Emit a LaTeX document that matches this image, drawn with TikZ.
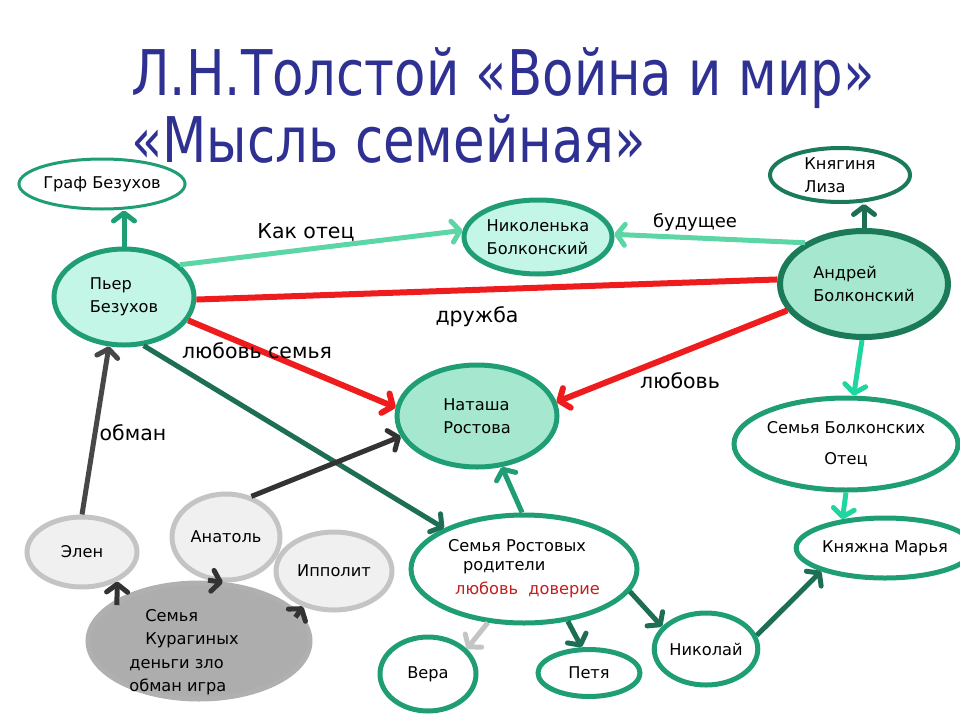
\documentclass[tikz,border=0pt]{standalone}
\usepackage{fontspec}
\setmainfont{DejaVu Sans}
\usetikzlibrary{shapes.geometric, arrows.meta}

\definecolor{titleblue}{HTML}{2E3192}
\definecolor{ringgreen}{HTML}{1F9E75}
\definecolor{darkring}{HTML}{1B7A57}
\definecolor{paleteal}{HTML}{C4F6E8}
\definecolor{mint}{HTML}{A6E8CF}
\definecolor{lightarrow}{HTML}{5CD6A5}
\definecolor{aqua}{HTML}{1FD6A0}
\definecolor{forest}{HTML}{1D6E55}
\definecolor{lovered}{HTML}{EE1C1C}
\definecolor{darkred}{HTML}{C41E1E}
\definecolor{charcoal}{HTML}{333333}
\definecolor{greyring}{HTML}{C4C4C4}
\definecolor{greyfill}{HTML}{F0F0F0}
\definecolor{kurfill}{HTML}{ADADAD}

\begin{document}
\begin{tikzpicture}[x=1pt, y=-1pt,
	oval/.style={ellipse, draw=ringgreen, line width=5pt, fill=white, inner sep=0pt, align=left, font=\fontsize{16.2}{23.5}\selectfont},
	greyoval/.style={oval, draw=greyring, fill=greyfill},
	link/.style={line width=5pt, -{Straight Barb[length=8pt,width=21pt,round]}},
	stub/.style={link, shorten <=-6pt},
	word/.style={anchor=base, font=\fontsize{20.5}{24}\selectfont}]
	\useasboundingbox (0,0) rectangle (960,720);

	% title
	\node[anchor=base west, inner sep=0pt, text=titleblue, font=\fontsize{63}{70}\selectfont] (title) at (131,95) {\scalebox{0.815}[1]{Л.Н.Толстой «Война и мир»}};
	\node[anchor=base west, inner sep=0pt, text=titleblue, font=\fontsize{63}{70}\selectfont] (subtitle) at (131,162) {\scalebox{0.815}[1]{«Мысль семейная»}};

	% Bezukhov, Bolkonsky
	\node[oval, line width=3pt, minimum width=158pt, minimum height=50pt] (graf) at (102,184) {Граф Безухов};
	\node[oval, fill=paleteal, minimum width=140pt, minimum height=96pt] (pierre) at (124,297) {Пьер\\Безухов};
	\node[oval, fill=paleteal, minimum width=148pt, minimum height=74pt] (nik) at (538,237) {Николенька\\Болконский};
	\node[oval, draw=darkring, line width=4pt, minimum width=140pt, minimum height=54pt] (lisa) at (840,175) {Княгиня\\Лиза};
	\node[oval, draw=darkring, line width=6pt, fill=mint, minimum width=168pt, minimum height=106pt] (andrey) at (864,284) {Андрей\\Болконский};
	\node[oval, fill=mint, minimum width=160pt, minimum height=102pt] (natasha) at (477,416) {Наташа\\Ростова};
	\node[oval, align=center, minimum width=194pt, minimum height=92pt] (bolk) at (846,444) {Семья Болконских\\[7.5pt]Отец};
	\node[oval, minimum width=150pt, minimum height=60pt] (marya) at (885,548) {Княжна Марья};

	% Rostovs
	\node[oval, minimum width=226pt, minimum height=108pt] (rostov) at (524,569) {Семья Ростовых\\[-5pt]\hspace*{15pt}родители\\[1pt]\hspace*{7pt}\textcolor{darkred}{любовь\ \ доверие}};
	\node[oval, minimum width=96pt, minimum height=74pt] (vera) at (428,674) {Вера};
	\node[oval, minimum width=102pt, minimum height=47pt] (petya) at (589,673) {Петя};
	\node[oval, minimum width=96pt, minimum height=72pt] (nikolay) at (706,649) {Николай};

	% Kuragins
	\node[greyoval, minimum width=110pt, minimum height=70pt] (elen) at (82,552) {Элен};
	\node[greyoval, minimum width=108pt, minimum height=86pt] (anatole) at (226,537) {Анатоль};
	\node[greyoval, minimum width=116pt, minimum height=78pt] (ippolit) at (334,571) {Ипполит};
	\node[greyoval, fill=kurfill, draw=greyring!90!black, minimum width=222pt, minimum height=116pt] (kuragin) at (199,641) {\raisebox{-15pt}[0pt][0pt]{\makebox[0pt]{\hspace*{-30pt}\begin{tabular}{@{}l@{}}\hspace*{16pt}Семья\\\hspace*{16pt}Курагиных\\деньги зло\\обман игра\end{tabular}}}};

	% links
	\draw[link, ringgreen] (pierre.north) -- (pierre.north |- graf.south);
	\draw[link, lightarrow] (pierre.30) -- (nik.175);
	\draw[link, lightarrow] (andrey.145) -- (nik.2);
	\draw[link, forest] (andrey.north) -- (andrey.north |- lisa.south);
	\draw[lovered, line width=6pt] (pierre.-2) -- (andrey.177);
	\draw[link, lovered, line width=6pt] (pierre.-20) -- (natasha.174);
	\draw[link, lovered, line width=6pt] (andrey.199) -- (natasha.10);
	\draw[link, aqua] (andrey.-92) -- (bolk.81);
	\draw[link, aqua] (bolk.south) -- (marya.146);
	\draw[link, forest] (pierre.-68) -- (rostov.153);
	\draw[link, charcoal] (anatole.58) -- (natasha.195);
	\draw[link, charcoal!90!white] (elen.north) -- (pierre.253);
	\draw[link, ringgreen] (rostov.92) -- (natasha.-64);
	\draw[link, greyring] (rostov.-124) -- (vera.33);
	\draw[link, forest] (rostov.-50) -- (petya.106);
	\draw[link, forest] (rostov.-12) -- (nikolay.153);
	\draw[link, forest] (nikolay.15) -- (marya.200);
	\draw[stub, charcoal] (kuragin.153) -- (elen.-40);
	\draw[stub, charcoal] (kuragin.76) -- (anatole.-94);
	\draw[stub, charcoal] (kuragin.16) -- (ippolit.229);

	% labels
	\node[word] (asfather) at (306,238) {Как отец};
	\node[word, font=\fontsize{18}{22}\selectfont] (future) at (695,227) {будущее};
	\node[word] (friendship) at (477,322) {дружба};
	\node[word] (lovefamily) at (257,358) {любовь семья};
	\node[word] (deceit) at (133,440) {обман};
	\node[word] (love) at (680,388) {любовь};
\end{tikzpicture}
\end{document}
